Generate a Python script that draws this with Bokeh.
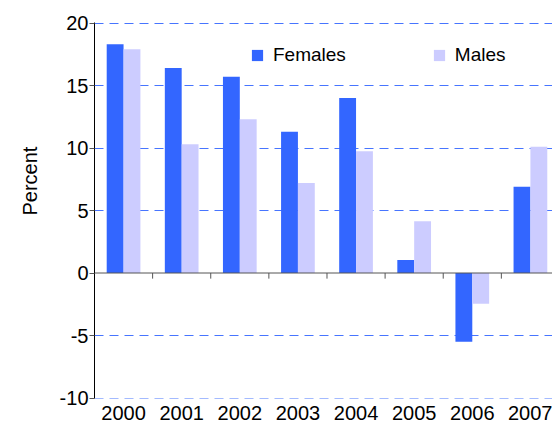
from bokeh.plotting import figure
from bokeh.models import Range1d, FixedTicker, Span, Legend, LegendItem, Title, ColumnDataSource
from bokeh.embed import file_html
from bokeh.resources import INLINE

years = ["2000", "2001", "2002", "2003", "2004", "2005", "2006", "2007"]
females = [18.3, 16.4, 15.7, 11.3, 14.0, 1.05, -5.5, 6.9]
males = [17.9, 10.3, 12.3, 7.2, 9.75, 4.15, -2.45, 10.1]
y_ticks = [-10, -5, 0, 5, 10, 15, 20]

FONT = "Liberation Sans"
FEM = "#3366FF"
MAL = "#CCCCFF"

idx = list(range(len(years)))
bw = 0.29
src = ColumnDataSource(dict(
    xf=[i - bw / 2 for i in idx],
    xm=[i + bw / 2 for i in idx],
    f=females, m=males,
))

p = figure(width=552, height=427, output_backend="svg", toolbar_location=None,
           x_range=Range1d(-0.5, 7.38), y_range=Range1d(-10.04, 20.04),
           min_border_left=94, min_border_right=0, min_border_top=22, min_border_bottom=29)
p.outline_line_color = None
p.background_fill_color = "white"
p.border_fill_color = "white"

rf = p.vbar(x="xf", top="f", bottom=0, width=bw, source=src, fill_color=FEM, line_color=None)
rm = p.vbar(x="xm", top="m", bottom=0, width=bw, source=src, fill_color=MAL, line_color=None)

# grid
p.xgrid.grid_line_color = None
p.ygrid.ticker = FixedTicker(ticks=[t for t in y_ticks if t != 0])
p.ygrid.grid_line_color = FEM
p.ygrid.grid_line_alpha = 0.9
p.ygrid.grid_line_dash = "9 6"
p.ygrid.grid_line_width = 1

# zero line and category separator ticks
p.add_layout(Span(location=0, dimension="width", line_color="#555555", line_width=1))
sep = [i + 0.5 for i in idx[:-1]]
p.segment(x0=sep, x1=sep, y0=[0] * len(sep), y1=[-0.45] * len(sep), line_color="#555555", line_width=1)

# y axis
yax = p.yaxis[0]
yax.ticker = FixedTicker(ticks=y_ticks)
yax.major_label_overrides = {t: str(t) for t in y_ticks}
yax.axis_line_color = "black"
yax.major_tick_line_color = "#555555"
yax.major_tick_out = 5
yax.major_tick_in = 0
yax.minor_tick_line_color = None
yax.major_label_text_font = FONT
yax.major_label_text_font_size = "20px"
yax.major_label_text_color = "black"
yax.major_label_standoff = 1

# x axis
xax = p.xaxis[0]
xax.ticker = FixedTicker(ticks=idx)
xax.major_label_overrides = {i: y for i, y in zip(idx, years)}
xax.axis_line_color = None
xax.major_tick_line_color = None
xax.minor_tick_line_color = None
xax.major_label_text_font = FONT
xax.major_label_text_font_size = "20px"
xax.major_label_text_color = "black"
xax.major_label_standoff = 1

# y label
p.add_layout(Title(text="Percent", align="left", offset=183, text_font=FONT,
                   text_font_size="20px", text_font_style="normal", text_color="black",
                   standoff=32), "left")

legend = Legend(items=[LegendItem(label="Females", renderers=[rf]),
                       LegendItem(label="Males", renderers=[rm])],
                orientation="horizontal", location=(156, 332),
                glyph_width=14, glyph_height=14, label_standoff=9, spacing=86,
                padding=0, margin=0, border_line_color=None, background_fill_alpha=0,
                label_text_font=FONT, label_text_font_size="19px", label_text_color="black")
p.add_layout(legend)

open("out.html", "w").write(file_html(p, INLINE))
